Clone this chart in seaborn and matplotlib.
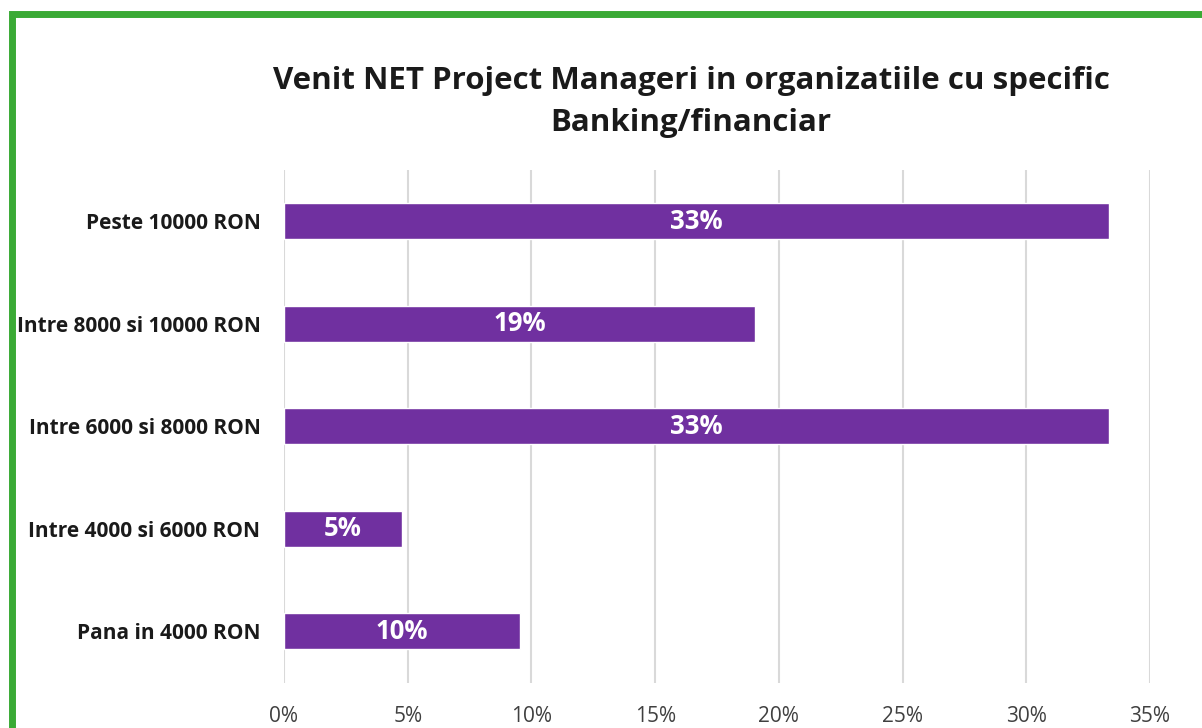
import matplotlib.pyplot as plt
import seaborn as sns
import pandas as pd
from matplotlib.patches import Rectangle
from matplotlib.ticker import PercentFormatter

categorii = ['Peste 10000 RON', 'Intre 8000 si 10000 RON', 'Intre 6000 si 8000 RON',
             'Intre 4000 si 6000 RON', 'Pana in 4000 RON']
procente = [33.33, 19.05, 33.33, 4.76, 9.52]
etichete = ['33%', '19%', '33%', '5%', '10%']

df = pd.DataFrame({'categorie': categorii, 'procent': procente})

sns.set_style('white')
plt.rcParams['font.family'] = ['Open Sans', 'DejaVu Sans']

fig = plt.figure(figsize=(12.02, 7.28), dpi=100)
ax = fig.add_axes([284 / 1202, 1 - 682.5 / 728, (1150 - 284) / 1202, (682.5 - 170) / 728])

sns.barplot(data=df, x='procent', y='categorie', color='#7030A0', width=0.35,
            saturation=1, ax=ax, zorder=3)

for i, (v, t) in enumerate(zip(procente, etichete)):
    ax.text(v / 2, i, t, color='white', fontsize=18.5, fontweight='bold',
            ha='center', va='center', zorder=4)

ax.set_xlim(0, 35)
ax.set_ylim(4.5, -0.5)
ax.set_xticks(range(0, 36, 5))
ax.xaxis.set_major_formatter(PercentFormatter(decimals=0))
ax.grid(axis='x', color='#d9d9d9', linewidth=1.5, zorder=0)
ax.grid(axis='y', visible=False)
for s in ax.spines.values():
    s.set_visible(False)
ax.set_xlabel('')
ax.set_ylabel('')
ax.tick_params(axis='x', labelsize=15, colors='#404040', length=0, pad=17)
ax.tick_params(axis='y', length=0, pad=17)
for lbl in ax.get_yticklabels():
    lbl.set_fontweight('bold')
    lbl.set_fontsize(15)
    lbl.set_color('#1a1a1a')

fig.text(691 / 1202, 1 - 102 / 728,
         'Venit NET Project Manageri in organizatiile cu specific\nBanking/financiar',
         ha='center', va='center', fontsize=22.5, fontweight='bold', color='#1a1a1a',
         linespacing=1.55)

# chenar verde (colt stanga-sus)
fig.patches.append(Rectangle((11.5 / 1202, -0.1), 1.2, 1 - 13.5 / 728 + 0.1,
                             transform=fig.transFigure, fill=False,
                             edgecolor='#3aaa35', linewidth=5, zorder=10))

fig.savefig('out.png', dpi=100)
